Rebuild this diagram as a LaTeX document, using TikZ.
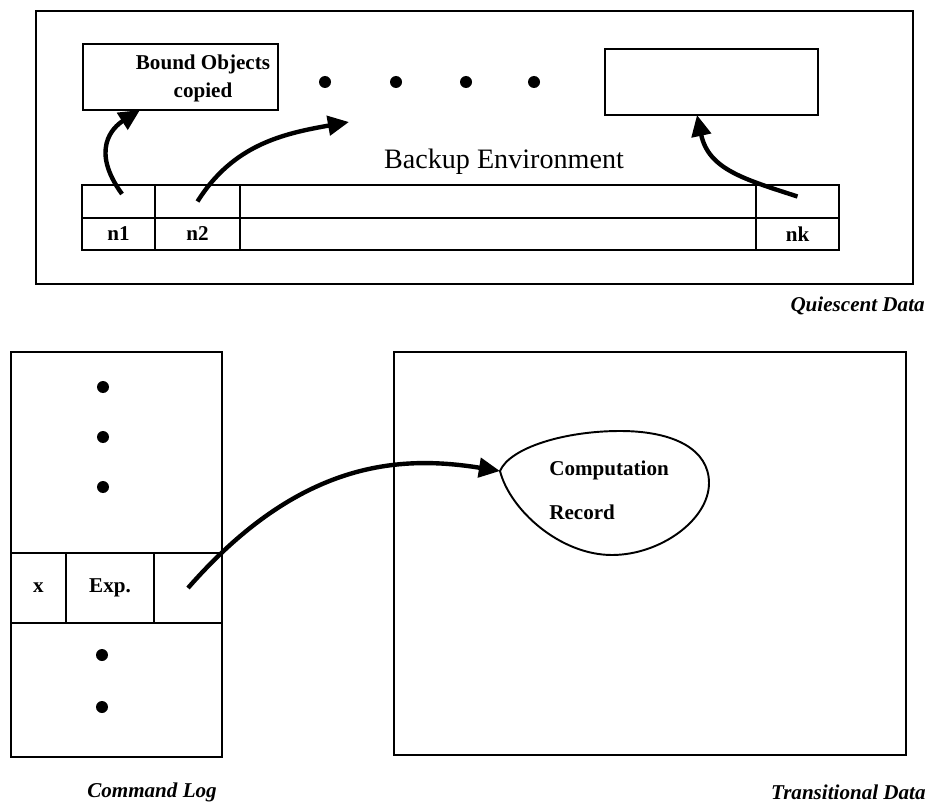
\documentclass[tikz,border=0pt]{standalone}
\usepackage{fontspec}
\setmainfont{Liberation Serif}
\usetikzlibrary{arrows.meta,calc}

\begin{document}
\begin{tikzpicture}[>={Triangle[length=12pt,width=11pt]},
  outline/.style={draw,line width=1.1pt},
  cell/.style={draw,line width=1.1pt,inner sep=0pt,outer sep=0pt,
    font=\fontsize{12}{14}\selectfont\bfseries},
  txt/.style={inner sep=0pt,font=\fontsize{12}{14}\selectfont\bfseries},
  link/.style={->,line width=2.5pt},
  caption/.style={inner sep=0pt,font=\fontsize{12}{14}\selectfont\bfseries\itshape},
  bullet/.style={circle,fill,inner sep=0pt,minimum size=0.24cm}]
\useasboundingbox (0,0) rectangle (18.58,-16.08);

% Backup environment with its table of bindings.
\draw[outline] (0.72,-0.22) rectangle (18.26,-5.68);
\node[cell,minimum width=3.9cm,minimum height=1.32cm] (bound) at (3.61,-1.54) {};
\node[txt,align=center] (boundtxt) at (4.06,-1.56) {Bound Objects\\[2pt]copied};
\node[cell,minimum width=4.26cm,minimum height=1.32cm] (slotk) at (14.23,-1.64) {};
\foreach \x [count=\i] in {6.5,7.92,9.32,10.68}
  \node[bullet] (hd\i) at (\x,-1.64) {};
\node[font=\fontsize{16}{19}\selectfont] (backup) at (10.08,-3.24) {Backup Environment};

\node[cell,minimum width=1.46cm,minimum height=0.66cm] (c1) at (2.37,-4.03) {};
\node[cell,minimum width=1.7cm,minimum height=0.66cm] (c2) at (3.95,-4.03) {};
\node[cell,minimum width=10.32cm,minimum height=0.66cm] (cmid) at (9.96,-4.03) {};
\node[cell,minimum width=1.66cm,minimum height=0.66cm] (ck) at (15.95,-4.03) {};
\node[cell,minimum width=1.46cm,minimum height=0.64cm] (n1) at (2.37,-4.68) {n1};
\node[cell,minimum width=1.7cm,minimum height=0.64cm] (n2) at (3.95,-4.68) {n2};
\node[cell,minimum width=10.32cm,minimum height=0.64cm] (nmid) at (9.96,-4.68) {};
\node[cell,minimum width=1.66cm,minimum height=0.64cm] (nk) at (15.95,-4.68) {nk};

\coordinate (gap) at (6.98,-2.44);
\draw[link] ([shift={(0.07,0.15)}]c1.center) .. controls (1.8,-3.0) and (2.25,-2.55) .. ([xshift=-0.81cm]bound.south);
\draw[link] (c2.center) to[out=58,in=190] (gap);
\draw[link] ([yshift=0.1cm]ck.center) to[out=162,in=-78,looseness=1.1] ([xshift=-0.29cm]slotk.south);

\node[caption,anchor=east] (quiescent) at (18.5,-6.12) {Quiescent Data};

% Command log.
\draw[outline] (0.22,-7.04) rectangle (4.44,-15.14);
\foreach \y [count=\i] in {-7.74,-8.74,-9.74}
  \node[bullet] (ud\i) at (2.06,\y) {};
\node[cell,minimum width=1.1cm,minimum height=1.4cm] (var) at (0.77,-11.76) {x};
\node[cell,minimum width=1.76cm,minimum height=1.4cm] (expr) at (2.2,-11.76) {Exp.};
\node[cell,minimum width=1.36cm,minimum height=1.4cm] (ptr) at (3.76,-11.76) {};
\foreach \y [count=\i] in {-13.1,-14.14}
  \node[bullet] (ld\i) at (2.04,\y) {};
\node[caption] (cmdlog) at (3.04,-15.84) {Command Log};

% Transitional data and the computation record.
\draw[outline] (7.88,-7.04) rectangle (18.12,-15.1);
\draw[line width=1.1pt] (10.0,-9.42) coordinate (eggtip)
  .. controls (10.2,-8.95) and (11.3,-8.62) .. (12.4,-8.62)
  .. controls (13.5,-8.62) and (14.18,-9.0) .. (14.18,-9.66)
  .. controls (14.18,-10.4) and (13.2,-11.1) .. (12.24,-11.1)
  .. controls (11.2,-11.1) and (10.2,-10.2) .. (eggtip) -- cycle;
\node[txt,align=left,anchor=west] (record) at (10.98,-9.8) {Computation\\[11pt]Record};
\draw[link] (ptr.center) .. controls (6.0,-9.2) and (8.0,-9.1) .. (eggtip);

\node[caption,anchor=east] (transit) at (18.52,-15.84) {Transitional Data};
\end{tikzpicture}
\end{document}
